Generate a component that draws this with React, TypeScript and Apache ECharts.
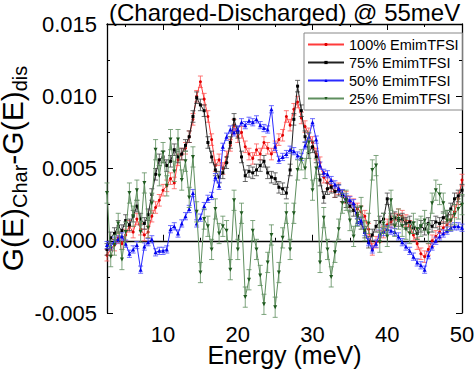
import React, { useEffect, useRef } from "react";
import * as echarts from "echarts";

// Energy grid (meV)
const energy = [
  2.5, 3, 3.5, 4, 4.5, 5, 5.5, 6, 6.5, 7,
  7.5, 8, 8.5, 9, 9.5, 10, 10.5, 11, 11.5, 12,
  12.5, 13, 13.5, 14, 14.5, 15, 15.5, 16, 16.5, 17,
  17.5, 18, 18.5, 19, 19.5, 20, 20.5, 21, 21.5, 22,
  22.5, 23, 23.5, 24, 24.5, 25, 25.5, 26, 26.5, 27,
  27.5, 28, 28.5, 29, 29.5, 30, 30.5, 31, 31.5, 32,
  32.5, 33, 33.5, 34, 34.5, 35, 35.5, 36, 36.5, 37,
  37.5, 38, 38.5, 39, 39.5, 40, 40.5, 41, 41.5, 42,
  42.5, 43, 43.5, 44, 44.5, 45, 45.5, 46, 46.5, 47,
  47.5, 48, 48.5, 49, 49.5, 50,
];

// Values in units of 1e-3
const emim100 = [
  -1.0, -0.6, -0.3, 0.2, -0.2, 0.4, 1.0, 0.6, 1.5, 0.8,
  0.4, 0.6, 1.7, 2.3, 2.8, 3.5, 3.8, 4.3, 4.0, 5.6,
  6.0, 6.4, 7.2, 8.4, 10.0, 11.0, 9.8, 8.6, 7.0, 5.2,
  5.6, 5.0, 5.8, 6.6, 8.0, 7.2, 7.5, 6.5, 6.0, 5.7,
  6.3, 6.0, 6.8, 6.4, 6.0, 6.5, 7.0, 7.3, 8.6, 8.0,
  9.1, 9.6, 8.5, 7.9, 7.4, 6.8, 6.0, 5.4, 4.4, 4.0,
  3.8, 3.4, 3.6, 3.1, 3.0, 2.7, 2.5, 2.2, 2.0, 1.7,
  0.8, -0.6, -0.1, 0.3, 0.6, 1.1, 1.3, 1.5, 1.8, 1.7,
  1.4, 1.0, 0.4, -0.2, -0.9, -1.1, -0.6, 0.0, 0.3, 0.6,
  0.9, 1.1, 1.4, 2.0, 2.9, 4.2,
];

const emim75 = [
  -0.6, 0.2, 0.5, 1.0, 0.7, 1.4, 1.1, 1.7, 2.4, 1.5,
  1.2, 1.8, 3.2, 4.6, 5.6, 5.8, 5.2, 5.5, 6.3, 5.8,
  6.0, 6.6, 7.2, 8.6, 9.9, 9.4, 9.0, 6.8, 5.8, 4.9,
  4.4, 4.7, 5.4, 6.8, 8.4, 7.5, 5.8, 4.5, 4.8, 4.7,
  4.9, 5.2, 5.5, 4.7, 4.4, 4.3, 3.7, 3.6, 3.3, 4.9,
  8.4, 10.7, 9.0, 7.2, 6.1, 6.5, 5.8, 4.2, 3.0, 3.6,
  3.7, 3.4, 3.5, 3.1, 2.7, 2.4, 2.1, 1.9, 1.2, 0.6,
  -0.1, 0.4, 1.0, 1.3, 1.5, 2.9, 1.5, 1.6, 1.4, 1.5,
  1.2, 1.3, 0.9, 0.5, 1.0, 0.8, 1.2, 1.0, 1.3, 1.2,
  1.6, 1.7, 2.2, 2.9, 3.1, 3.5,
];

const emim50 = [
  -0.3, -0.4, 0.0, 0.1, 0.3, -0.2, -0.9, -0.6, -0.3, -2.0,
  -0.4, -0.1, 0.1, -0.8, -0.7, -0.7, -0.6, 0.8, 1.0, 0.5,
  1.2, 1.7, 2.2, 3.3, 1.2, 1.6, 2.4, 2.9, 3.1, 4.4,
  3.8, 6.5, 7.2, 7.7, 7.5, 7.7, 8.2, 8.0, 8.3, 8.2,
  8.4, 8.0, 7.8, 7.7, 9.1, 6.5, 5.6, 5.8, 6.0, 6.3,
  6.2, 5.9, 5.8, 6.6, 7.2, 8.2, 7.0, 5.2, 4.7, 4.6,
  4.2, 3.9, 3.6, 3.3, 3.0, 2.8, 2.6, 1.3, 1.4, 0.6,
  -0.1, -0.6, -0.2, 0.5, 0.6, 0.8, 0.7, 0.6, 0.3, -0.1,
  -0.4, -0.7, -1.1, -1.5, -1.7, -2.0, -1.0, -0.4, 0.0, 0.3,
  0.5, 0.7, 0.9, 1.0, 1.0, 0.9,
];

const emim25 = [
  3.3, -1.1, -0.3, 1.2, -1.3, 0.6, 3.3, 1.7, 3.5, 0.6,
  4.0, 0.9, 2.6, 6.3, 4.5, 6.1, 3.8, 7.0, 4.8, 7.0,
  4.2, 5.5, 3.0, 5.8, 2.0, -2.2, 1.5, 1.0, -0.6, 2.2,
  0.5, 1.0, 0.7, -2.0, 2.8, -0.6, 1.9, -3.9, -2.7, 0.7,
  -0.6, -2.4, -4.4, -1.5, 0.4, -4.6, -2.2, 0.2, 1.9, -0.6,
  1.9, 4.9, 5.6, 5.0, 6.8, 3.5, 5.0, -1.5, 1.6, -0.6,
  -2.5, -0.8, 0.8, 2.6, 2.8, 1.4, 0.3, 1.7, 2.3, 0.7,
  1.2, 4.9, 5.2, -0.1, 1.2, 0.3, 2.8, 1.0, 1.5, 1.0,
  0.8, 0.5, 1.2, 0.8, 1.0, 1.4, 0.5, 2.6, 3.5, 3.2,
  2.6, 1.4, 1.4, 1.8, 2.2, 2.5,
];

// Error bar half-widths (units of 1e-3)
const errorBars = [0.4, 0.4, 0.25, 0.7];

const seriesNames = ["100% EmimTFSI", "75% EmimTFSI", "50% EmimTFSI", "25% EmimTFSI"];
const xMajorTicks = [10, 20, 30, 40, 50];
const xMinorTicks = [5, 15, 25, 35, 45];
const titleText = "(Charged-Discharged) @ 55meV";
const xName = "Energy (meV)";

export default function App() {
  const ref = useRef<HTMLDivElement>(null);

  useEffect(() => {
    if (!ref.current) return;
    const chart = echarts.init(ref.current, null, { renderer: "svg" });
    const font = "'Liberation Sans', Arial, sans-serif";
    const lineColors = ["#ff3b3b", "#222222", "#2a2aff", "#5f8f5f"];
    const markColors = ["#e00000", "#000000", "#0000ee", "#1f5a1f"];
    const errColors = ["#ff5a5a", "#444444", "#4a4aff", "#5f8f5f"];
    const symbols = ["circle", "rect", "triangle", "triangle"];
    const symbolSizes = [3, 3, 4, 4];
    const rotations = [0, 0, 0, 180];
    const all = [emim100, emim75, emim50, emim25];

    const errSeries: any[] = [];
    const lineSeries: any[] = [];
    all.forEach((vals, i) => {
      const c = errColors[i];
      errSeries.push({
        type: "custom",
        name: "err" + i,
        data: energy.map((e, j) => [e, (vals[j] - errorBars[i]) * 1e-3, (vals[j] + errorBars[i]) * 1e-3]),
        encode: { x: 0, y: [1, 2] },
        silent: true,
        z: 2 + i * 2,
        renderItem: (params: any, api: any) => {
          const x = api.value(0);
          const lo = api.coord([x, api.value(1)]);
          const hi = api.coord([x, api.value(2)]);
          const w = 2.5;
          const st = { stroke: c, lineWidth: 0.8 };
          return {
            type: "group",
            children: [
              { type: "line", shape: { x1: lo[0], y1: lo[1], x2: hi[0], y2: hi[1] }, style: st },
              { type: "line", shape: { x1: lo[0] - w, y1: lo[1], x2: lo[0] + w, y2: lo[1] }, style: st },
              { type: "line", shape: { x1: hi[0] - w, y1: hi[1], x2: hi[0] + w, y2: hi[1] }, style: st },
            ],
          };
        },
      });
      lineSeries.push({
        type: "line",
        name: seriesNames[i],
        data: energy.map((e, j) => [e, vals[j] * 1e-3]),
        symbol: symbols[i],
        symbolSize: symbolSizes[i],
        symbolRotate: rotations[i],
        showSymbol: true,
        showAllSymbol: true,
        lineStyle: { width: 1, color: lineColors[i] },
        itemStyle: { color: markColors[i] },
        z: 3 + i * 2,
        emphasis: { disabled: true },
      });
    });

    const baseX = { type: "value", min: 2.5, max: 50, splitLine: { show: false } };
    const baseY = { type: "value", min: -0.005, max: 0.015, interval: 0.005, splitLine: { show: false } };
    const axisLine = { show: true, lineStyle: { color: "#000", width: 1.3 } };

    chart.setOption({
      animation: false,
      title: {
        text: titleText,
        left: 109,
        top: 0,
        padding: 0,
        textStyle: { fontSize: 24, fontWeight: "normal", color: "#000", fontFamily: font, lineHeight: 24 },
      },
      grid: { left: 107, right: 12, top: 24, bottom: 62, containLabel: false, outerBoundsMode: "none" },
      legend: {
        data: seriesNames,
        orient: "vertical",
        left: 304,
        top: 33,
        itemWidth: 36,
        itemHeight: 4,
        itemGap: 1,
        padding: [3, 4, 3, 3],
        borderColor: "#888",
        borderWidth: 1,
        textStyle: { fontSize: 14.5, color: "#000", fontFamily: font, lineHeight: 17 },
      },
      xAxis: [
        {
          ...baseX,
          position: "bottom",
          axisLine,
          axisTick: { inside: true, length: 6, customValues: xMajorTicks, lineStyle: { color: "#000" } },
          axisLabel: {
            customValues: xMajorTicks,
            fontSize: 22,
            lineHeight: 22,
            color: "#000",
            margin: 10,
            fontFamily: font,
          },
          name: xName,
          nameLocation: "middle",
          nameGap: 32,
          nameMoveOverlap: false,
          nameTextStyle: { fontSize: 25, color: "#000", fontFamily: font, lineHeight: 20 },
        },
        {
          ...baseX,
          position: "bottom",
          axisLine: { show: false },
          axisTick: { inside: true, length: 3, customValues: xMinorTicks, lineStyle: { color: "#000" } },
          axisLabel: { show: false },
        },
        {
          ...baseX,
          position: "top",
          axisLine,
          axisTick: { inside: true, length: 6, customValues: xMajorTicks, lineStyle: { color: "#000" } },
          axisLabel: { show: false },
        },
        {
          ...baseX,
          position: "top",
          axisLine: { show: false },
          axisTick: { inside: true, length: 3, customValues: xMinorTicks, lineStyle: { color: "#000" } },
          axisLabel: { show: false },
        },
      ],
      yAxis: [
        {
          ...baseY,
          position: "left",
          axisLine,
          axisTick: { inside: true, length: 6, lineStyle: { color: "#000" } },
          minorTick: { show: true, splitNumber: 2, length: 3, lineStyle: { color: "#000" } },
          axisLabel: {
            fontSize: 22,
            color: "#000",
            margin: 10,
            fontFamily: font,
            formatter: (v: number) => v.toFixed(3),
          },
          name: "{m|G(E)}{s|Char}{m|-G(E)}{s|dis}",
          nameLocation: "middle",
          nameRotate: 90,
          nameGap: 78,
          nameMoveOverlap: false,
          nameTextStyle: {
            rich: {
              m: { fontSize: 30, lineHeight: 34, color: "#000", fontFamily: font },
              s: { fontSize: 20, lineHeight: 20, padding: [16, 0, 0, 0], color: "#000", fontFamily: font },
            },
          },
        },
        {
          ...baseY,
          position: "right",
          axisLine,
          axisTick: { inside: true, length: 6, lineStyle: { color: "#000" } },
          minorTick: { show: true, splitNumber: 2, length: 3, lineStyle: { color: "#000" } },
          axisLabel: { show: false },
        },
      ],
      series: [...errSeries, ...lineSeries].sort((a, b) => a.z - b.z),
    });

    return () => chart.dispose();
  }, []);

  return (
    <div
      ref={ref}
      style={{ position: "absolute", left: 0, top: 0, width: 474, height: 375, background: "#fff" }}
    />
  );
}
